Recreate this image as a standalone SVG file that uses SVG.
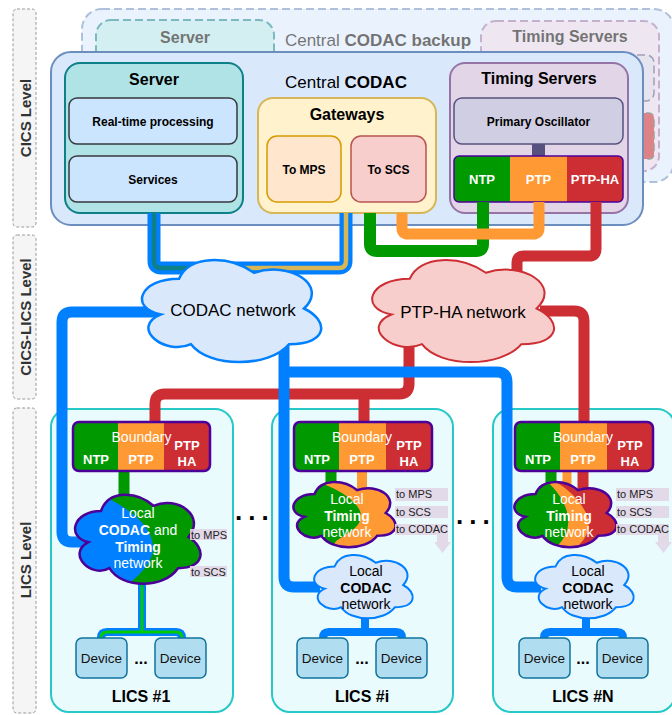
<svg xmlns="http://www.w3.org/2000/svg" width="672" height="715" viewBox="0 0 672 715">
<defs>
<style>
text{font-family:"Liberation Sans",Arial,Helvetica,sans-serif;fill:#000}
.c{text-anchor:middle}
.b{font-weight:bold}
.w{fill:#fff}
.lvl rect{fill:#f5f5f5;stroke:#9a9a9a;stroke-width:1;stroke-dasharray:3 2}
.lvl text{font-size:15px;font-weight:bold;fill:#333;text-anchor:middle}
.dash{stroke-dasharray:8 4}
.lics{fill:#e9fbfd;stroke:#26c8c8;stroke-width:2}
.dev rect{fill:#b1ddf0;stroke:#10739e;stroke-width:1.5}
.dev text{font-size:13.5px;text-anchor:middle;fill:#111}
.lbl{fill:#e1d5e7;opacity:0.9}
.lt{font-size:11px;fill:#222}
.ct{font-size:14px;text-anchor:middle}
.ntp{fill:#009900}
.ptp{fill:#ff9933}
.ha{fill:#cc2e33}
.bt{font-size:13px;font-weight:bold;fill:#fff;text-anchor:middle}
.blue{stroke:#007fff}
.red{stroke:#cc2e33}
.grn{stroke:#009900}
.org{stroke:#ff9933}
</style>
<clipPath id="clipBar"><rect x="454" y="156" width="169" height="46" rx="5"/></clipPath>
<clipPath id="clipBarBk"><rect x="485" y="113" width="169" height="46" rx="5"/></clipPath>
<clipPath id="clipB1"><rect x="73" y="422" width="137" height="49" rx="6"/></clipPath>
<clipPath id="clipBi"><rect x="294" y="422" width="138" height="49" rx="6"/></clipPath>
<clipPath id="clipC1"><path d="M101,511 C73,511 66,537 88.4,542.2 C66,553.64 91.2,578.6 109.4,568.2 C122,589 164,589 178,568.2 C206,568.2 206,547.4 188.5,537 C206,516.2 178,495.4 153.5,505.8 C136,490.2 108,490.2 101,511 Z"/></clipPath>
<clipPath id="clipTi"><path d="M314.5,494 C291.7,494 286,513 304.24,516.8 C286,525.16 306.52,543.4 321.34,535.8 C331.6,551 365.8,551 377.2,535.8 C400,535.8 400,520.6 385.75,513 C400,497.8 377.2,482.6 357.25,490.2 C343,478.8 320.2,478.8 314.5,494 Z"/></clipPath>
</defs>

<!-- level labels -->
<g id="level-cics" class="lvl"><rect x="13" y="9" width="23" height="218" rx="4"/><text transform="translate(30.5 118) rotate(-90)">CICS Level</text></g>
<g id="level-cics-lics" class="lvl"><rect x="13" y="235" width="23" height="164" rx="4"/><text transform="translate(30.5 317) rotate(-90)">CICS-LICS Level</text></g>
<g id="level-lics" class="lvl"><rect x="13" y="408" width="23" height="305" rx="4"/><text transform="translate(30.5 560) rotate(-90)">LICS Level</text></g>

<!-- backup -->
<g id="central-codac-backup" opacity="0.55">
<rect class="dash" x="82" y="9" width="592" height="173" rx="20" fill="#dae8fc" stroke="#6c8ebf" stroke-width="2"/>
<text x="378" y="46" class="c" font-size="17">Central <tspan class="b">CODAC backup</tspan></text>
<g id="server-backup"><rect class="dash" x="96" y="20" width="178" height="150" rx="15" fill="#b0e3e6" stroke="#0e8088" stroke-width="2"/><text x="185" y="43" class="c b" font-size="16">Server</text></g>
<g id="timing-servers-backup"><rect class="dash" x="481" y="21" width="178" height="150" rx="15" fill="#e1d5e7" stroke="#9673a6" stroke-width="2"/><text x="570" y="42" class="c b" font-size="16">Timing Servers</text>
<rect class="dash" x="485" y="55" width="169" height="46" rx="8" fill="#d0cee2" stroke="#56517e" stroke-width="1.5"/>
<g clip-path="url(#clipBarBk)"><rect x="485" y="113" width="56" height="46" class="ntp"/><rect x="541" y="113" width="57" height="46" class="ptp"/><rect x="598" y="113" width="56" height="46" fill="#c41e23"/></g>
<rect class="dash" x="485" y="113" width="169" height="46" rx="5" fill="none" stroke="#555" stroke-width="1.5"/>
</g>
</g>

<!-- central CODAC -->
<g id="central-codac">
<rect x="51" y="52" width="592" height="173" rx="20" fill="#dae8fc" stroke="#6c8ebf" stroke-width="2"/>
<text x="346" y="88" class="c" font-size="17">Central <tspan class="b">CODAC</tspan></text>
</g>
<g id="server"><rect x="65" y="63" width="178" height="150" rx="15" fill="#b0e3e6" stroke="#0e8088" stroke-width="2"/><text x="154" y="85" class="c b" font-size="16">Server</text></g>
<g id="realtime-processing"><rect x="69" y="98" width="168" height="46" rx="8" fill="#cce5ff" stroke="#36393d" stroke-width="1.5"/><text x="153" y="126" class="c b" font-size="12">Real-time processing</text></g>
<g id="services"><rect x="69" y="156" width="168" height="46" rx="8" fill="#cce5ff" stroke="#36393d" stroke-width="1.5"/><text x="153" y="184" class="c b" font-size="12">Services</text></g>
<g id="gateways"><rect x="258" y="98" width="178" height="115" rx="15" fill="#fff2cc" stroke="#d6b656" stroke-width="2"/><text x="347" y="120" class="c b" font-size="16">Gateways</text></g>
<g id="gw-to-mps"><rect x="267" y="136" width="74" height="66" rx="10" fill="#ffe6cc" stroke="#d79b00" stroke-width="1.5"/><text x="304" y="174" class="c b" font-size="12">To MPS</text></g>
<g id="gw-to-scs"><rect x="351" y="136" width="75" height="66" rx="10" fill="#f8cecc" stroke="#b85450" stroke-width="1.5"/><text x="388.5" y="174" class="c b" font-size="12">To SCS</text></g>
<g id="timing-servers"><rect x="450" y="63" width="178" height="150" rx="15" fill="#e1d5e7" stroke="#9673a6" stroke-width="2"/><text x="539" y="84" class="c b" font-size="16">Timing Servers</text></g>
<g id="primary-oscillator"><rect x="454" y="98" width="169" height="46" rx="8" fill="#d0cee2" stroke="#56517e" stroke-width="1.5"/><text x="538.5" y="126" class="c b" font-size="12">Primary Oscillator</text><rect x="532" y="144" width="13" height="12" fill="#56517e"/></g>
<g id="timing-outputs">
<g clip-path="url(#clipBar)"><rect x="454" y="156" width="56" height="46" class="ntp"/><rect x="510" y="156" width="57" height="46" class="ptp"/><rect x="567" y="156" width="56" height="46" class="ha"/></g>
<rect x="454" y="156" width="169" height="46" rx="5" fill="none" stroke="#4c0099" stroke-width="1.5"/>
<text x="482" y="184" class="bt">NTP</text><text x="538.5" y="184" class="bt">PTP</text><text x="595" y="184" class="bt">PTP-HA</text>
</g>

<!-- LICS containers -->
<g id="lics-1"><rect x="51" y="409" width="182" height="303" rx="18" class="lics"/><text x="141" y="702" class="c b" font-size="16">LICS #1</text></g>
<g id="lics-i"><rect x="272" y="409" width="181" height="303" rx="18" class="lics"/><text x="362" y="702" class="c b" font-size="16">LICS #i</text></g>
<g id="lics-n"><rect x="493" y="409" width="182" height="303" rx="18" class="lics"/><text x="583" y="702" class="c b" font-size="16">LICS #N</text></g>

<!-- connectors -->
<g id="connectors" fill="none" stroke-linejoin="round">
<path class="blue" d="M154,213 V261 Q154,268 161,268 H240" stroke-width="13"/>
<path d="M154,213 V261 Q154,268 161,268 H240" stroke="#0e8088" stroke-width="4.5"/>
<path class="blue" d="M346,213 V261 Q346,268 339,268 H240" stroke-width="13"/>
<path d="M346,213 V261 Q346,268 339,268 H240" stroke="#d6b656" stroke-width="4.5"/>
<path class="grn" d="M483,202 V244 Q483,251 476,251 H377 Q370,251 370,244 V213" stroke-width="12"/>
<path class="org" d="M539,202 V228 Q539,234 533,234 H408 Q402,234 402,228 V213" stroke-width="11"/>
<path class="red" d="M596,202 V249 Q596,256 589,256 H524 Q517,256 517,263 V290" stroke-width="11"/>
<path class="red" d="M409,340 V384 Q409,394 399,394 H165 Q155,394 155,404 V423" stroke-width="11"/>
<path class="red" d="M364,394 V423" stroke-width="11"/>
<path class="red" d="M540,311 H574 Q584,311 584,321 V423" stroke-width="11"/>
<path class="blue" d="M160,312 H72 Q62,312 62,322 V532 Q62,542 72,542 H90" stroke-width="11"/>
<path class="blue" d="M284,340 V577 Q284,587 294,587 H320" stroke-width="11"/>
<path class="blue" d="M284,372 H497 Q507,372 507,382 V577 Q507,587 517,587 H541" stroke-width="11"/>
<path class="grn" d="M124,471 V505" stroke-width="11"/>
<path class="grn" d="M331,471 V495" stroke-width="11"/>
<path class="org" d="M362,471 V495" stroke-width="10"/>
<path class="grn" d="M551,471 V495" stroke-width="11"/>
<path class="org" d="M567,471 V495" stroke-width="9"/>
<path class="red" d="M583,471 V495" stroke-width="11"/>
<path class="blue" d="M142,584 V632 M101,641 V638 Q101,632 107,632 H176 Q182,632 182,638 V641" stroke-width="8"/>
<path d="M142,584 V632 M101,641 V638 Q101,632 107,632 H176 Q182,632 182,638 V641" stroke="#00cc00" stroke-width="3"/>
<path class="blue" d="M365,615 V632 M323,641 V638 Q323,632 329,632 H396 Q402,632 402,638 V641" stroke-width="8"/>
<path class="blue" d="M586,615 V632 M544,641 V638 Q544,632 550,632 H617 Q623,632 623,638 V641" stroke-width="8"/>
</g>

<!-- networks -->
<g id="codac-network">
<path d="M179,278.75 C139,278.75 129,308.5 161,314.45 C129,327.54 165,356.1 191,344.2 C209,368 269,368 289,344.2 C329,344.2 329,320.4 304,308.5 C329,284.7 289,260.9 254,272.8 C229,254.95 189,254.95 179,278.75 Z" fill="#dae8fc" stroke="#007fff" stroke-width="2.5"/>
<text x="233" y="316" class="c" font-size="17">CODAC network</text>
</g>
<g id="ptp-ha-network">
<path d="M409.75,278.75 C369.15,278.75 359,308.5 391.48,314.45 C359,327.54 395.54,356.1 421.93,344.2 C440.2,368 501.1,368 521.4,344.2 C562,344.2 562,320.4 536.6,308.5 C562,284.7 521.4,260.9 485.9,272.8 C460.5,254.95 419.9,254.95 409.75,278.75 Z" fill="#f8cecc" stroke="#cc2e33" stroke-width="2"/>
<text x="463" y="318" class="c" font-size="17">PTP-HA network</text>
</g>

<!-- LICS #1 nodes -->
<g id="lics1-boundary">
<g clip-path="url(#clipB1)"><rect x="73" y="422" width="45" height="49" class="ntp"/><rect x="118" y="422" width="46" height="49" class="ptp"/><rect x="164" y="422" width="46" height="49" class="ha"/></g>
<rect x="73" y="422" width="137" height="49" rx="6" fill="none" stroke="#4c0099" stroke-width="2.5"/>
<text x="141.5" y="442" class="c w" font-size="14">Boundary</text>
<text x="96" y="464" class="bt" font-size="14">NTP</text><text x="141" y="464" class="bt" font-size="14">PTP</text>
<text x="187" y="450" class="bt" font-size="14">PTP</text><text x="187" y="466" class="bt" font-size="14">HA</text>
</g>
<g id="lics1-network">
<g clip-path="url(#clipC1)"><rect x="60" y="480" width="150" height="115" class="ntp"/><path d="M50,470 H104 L107,498 C128,508 152,525 153,547 C154,562 138,578 118,592 L118,600 H50 Z" fill="#007fff"/></g>
<path d="M101,511 C73,511 66,537 88.4,542.2 C66,553.64 91.2,578.6 109.4,568.2 C122,589 164,589 178,568.2 C206,568.2 206,547.4 188.5,537 C206,516.2 178,495.4 153.5,505.8 C136,490.2 108,490.2 101,511 Z" fill="none" stroke="#4c0099" stroke-width="2.5"/>
<text x="138" y="518" class="ct w">Local</text>
<text x="138" y="535" class="ct w"><tspan class="b">CODAC</tspan> and</text>
<text x="138" y="552" class="ct w b">Timing</text>
<text x="138" y="568" class="ct w">network</text>
</g>
<g id="lics1-to-mps"><rect x="190" y="529" width="37" height="11" class="lbl"/><text x="191" y="538.5" class="lt">to MPS</text></g>
<g id="lics1-to-scs"><rect x="190" y="566" width="37" height="11" class="lbl"/><text x="191" y="575.5" class="lt">to SCS</text></g>
<g id="lics1-device-a" class="dev"><rect x="76" y="638" width="51" height="40" rx="6"/><text x="101.5" y="663">Device</text></g>
<g id="lics1-device-b" class="dev"><rect x="155" y="638" width="51" height="40" rx="6"/><text x="180.5" y="663">Device</text></g>
<text x="141" y="664" class="c b" font-size="16">...</text>

<!-- LICS #i nodes -->
<g id="licsi-boundary">
<g clip-path="url(#clipBi)"><rect x="294" y="422" width="45" height="49" class="ntp"/><rect x="339" y="422" width="47" height="49" class="ptp"/><rect x="386" y="422" width="46" height="49" class="ha"/></g>
<rect x="294" y="422" width="138" height="49" rx="6" fill="none" stroke="#4c0099" stroke-width="2.5"/>
<text x="362" y="442" class="c w" font-size="14">Boundary</text>
<text x="317" y="464" class="bt" font-size="14">NTP</text><text x="362" y="464" class="bt" font-size="14">PTP</text>
<text x="409" y="450" class="bt" font-size="14">PTP</text><text x="409" y="466" class="bt" font-size="14">HA</text>
</g>
<g id="licsi-timing-network">
<g clip-path="url(#clipTi)"><rect x="280" y="470" width="130" height="90" class="ptp"/><path d="M280,470 H318 L323,484 C340,490 360,503 361,515 C362,527 345,535 336,541 L330,552 L330,560 H280 Z" fill="#009900"/></g>
<path d="M314.5,494 C291.7,494 286,513 304.24,516.8 C286,525.16 306.52,543.4 321.34,535.8 C331.6,551 365.8,551 377.2,535.8 C400,535.8 400,520.6 385.75,513 C400,497.8 377.2,482.6 357.25,490.2 C343,478.8 320.2,478.8 314.5,494 Z" fill="none" stroke="#4c0099" stroke-width="2.5"/>
<text x="347" y="504" class="ct w">Local</text>
<text x="347" y="521" class="ct w b">Timing</text>
<text x="347" y="537" class="ct w">network</text>
</g>
<g id="licsi-labels">
<rect x="395" y="488" width="53" height="13" class="lbl"/><text x="396" y="498" class="lt">to MPS</text>
<rect x="395" y="506" width="53" height="12" class="lbl"/><text x="396" y="515.5" class="lt">to SCS</text>
<path d="M395,524 H448 V542 H451 L442.5,553 L434,542 H437 V535 H395 Z" class="lbl"/><text x="396" y="533" class="lt">to CODAC</text>
</g>
<g id="licsi-codac-network">
<path d="M334.5,566.5 C312.5,566.5 307,585 324.6,588.7 C307,596.84 326.8,614.6 341.1,607.2 C351,622 384,622 395,607.2 C417,607.2 417,592.4 403.25,585 C417,570.2 395,555.4 375.75,562.8 C362,551.7 340,551.7 334.5,566.5 Z" fill="#dae8fc" stroke="#007fff" stroke-width="2"/>
<text x="366" y="576" class="ct">Local</text>
<text x="366" y="593" class="ct b">CODAC</text>
<text x="366" y="609" class="ct">network</text>
</g>
<g id="licsi-device-a" class="dev"><rect x="297" y="638" width="51" height="40" rx="6"/><text x="322.5" y="663">Device</text></g>
<g id="licsi-device-b" class="dev"><rect x="376" y="638" width="51" height="40" rx="6"/><text x="401.5" y="663">Device</text></g>
<text x="362" y="664" class="c b" font-size="16">...</text>

<!-- LICS #N nodes (same layout as LICS #i, shifted) -->
<g transform="translate(221 0)">
<g id="licsn-boundary">
<g clip-path="url(#clipBi)"><rect x="294" y="422" width="45" height="49" class="ntp"/><rect x="339" y="422" width="47" height="49" class="ptp"/><rect x="386" y="422" width="46" height="49" class="ha"/></g>
<rect x="294" y="422" width="138" height="49" rx="6" fill="none" stroke="#4c0099" stroke-width="2.5"/>
<text x="362" y="442" class="c w" font-size="14">Boundary</text>
<text x="317" y="464" class="bt" font-size="14">NTP</text><text x="362" y="464" class="bt" font-size="14">PTP</text>
<text x="409" y="450" class="bt" font-size="14">PTP</text><text x="409" y="466" class="bt" font-size="14">HA</text>
</g>
<g id="licsn-timing-network">
<g clip-path="url(#clipTi)"><rect x="280" y="470" width="130" height="90" class="ha"/><path d="M280,470 H330 L331,480 C347,488 359,500 366,515 C371,530 364,542 351,550 L351,560 H280 Z" fill="#ff9933"/><path d="M280,470 H323 L324,480 C339,492 349,510 347,525 C346,535 341,542 332,550 L332,560 H280 Z" fill="#009900"/></g>
<path d="M314.5,494 C291.7,494 286,513 304.24,516.8 C286,525.16 306.52,543.4 321.34,535.8 C331.6,551 365.8,551 377.2,535.8 C400,535.8 400,520.6 385.75,513 C400,497.8 377.2,482.6 357.25,490.2 C343,478.8 320.2,478.8 314.5,494 Z" fill="none" stroke="#4c0099" stroke-width="2.5"/>
<text x="348" y="504" class="ct w">Local</text>
<text x="348" y="521" class="ct w b">Timing</text>
<text x="348" y="537" class="ct w">network</text>
</g>
<g id="licsn-labels">
<rect x="395" y="488" width="53" height="13" class="lbl"/><text x="396" y="498" class="lt">to MPS</text>
<rect x="395" y="506" width="53" height="12" class="lbl"/><text x="396" y="515.5" class="lt">to SCS</text>
<path d="M395,524 H448 V542 H451 L442.5,553 L434,542 H437 V535 H395 Z" class="lbl"/><text x="396" y="533" class="lt">to CODAC</text>
</g>
<g id="licsn-codac-network">
<path d="M334.5,566.5 C312.5,566.5 307,585 324.6,588.7 C307,596.84 326.8,614.6 341.1,607.2 C351,622 384,622 395,607.2 C417,607.2 417,592.4 403.25,585 C417,570.2 395,555.4 375.75,562.8 C362,551.7 340,551.7 334.5,566.5 Z" fill="#dae8fc" stroke="#007fff" stroke-width="2"/>
<text x="367" y="576" class="ct">Local</text>
<text x="367" y="593" class="ct b">CODAC</text>
<text x="367" y="609" class="ct">network</text>
</g>
<g id="licsn-device-a" class="dev"><rect x="298" y="638" width="51" height="40" rx="6"/><text x="323.5" y="663">Device</text></g>
<g id="licsn-device-b" class="dev"><rect x="376" y="638" width="51" height="40" rx="6"/><text x="401.5" y="663">Device</text></g>
<text x="362" y="664" class="c b" font-size="16">...</text>
</g>

<!-- ellipses between LICS -->
<text x="235" y="520" class="b" font-size="26" letter-spacing="6">...</text>
<text x="456" y="524" class="b" font-size="26" letter-spacing="6">...</text>
</svg>
